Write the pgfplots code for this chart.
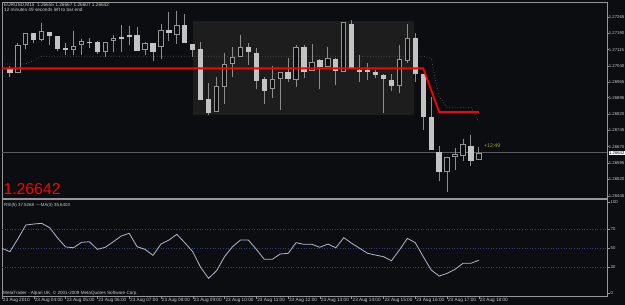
\documentclass[border=0pt]{standalone}
\usepackage{fontspec}
\setmainfont{Liberation Sans}
\usepackage{pgfplots}
\usepackage{pgfplotstable}
\pgfplotsset{compat=1.18}

\definecolor{bg}{RGB}{12,13,16}
\definecolor{boxc}{RGB}{29,29,30}
\definecolor{framec}{RGB}{150,150,150}
\definecolor{wick}{RGB}{140,140,140}
\definecolor{bodyf}{RGB}{195,195,195}
\definecolor{bodyo}{RGB}{150,150,150}
\definecolor{rsil}{RGB}{175,185,205}
\definecolor{lvl}{RGB}{45,65,120}
\definecolor{lbl}{RGB}{205,205,205}
\definecolor{cpline}{RGB}{90,92,95}
\definecolor{dotc}{RGB}{90,90,90}
\definecolor{timer}{RGB}{170,170,40}

\newcommand\fs{\fontsize{4.7pt}{5.5pt}\selectfont}
\newcommand\fsy{\fontsize{4.25pt}{5pt}\selectfont}

% bearish (filled) candles: time(hours) open high low close
\pgfplotstableread{
t O H L C
3.25 1.27026 1.27041 1.26988 1.27006
4.0 1.27189 1.27189 1.27144 1.27159
4.5 1.27194 1.27197 1.27136 1.27178
4.75 1.27177 1.27177 1.27108 1.27118
5.0 1.27124 1.27146 1.27090 1.27113
5.75 1.27149 1.27167 1.27121 1.27143
6.0 1.27151 1.27156 1.27095 1.27102
6.75 1.27174 1.27227 1.27104 1.27163
7.0 1.27183 1.27223 1.27136 1.27171
7.25 1.27183 1.27220 1.27110 1.27110
7.75 1.27144 1.27146 1.27064 1.27105
8.25 1.27205 1.27288 1.27156 1.27189
8.75 1.27227 1.27278 1.27144 1.27144
9.0 1.27139 1.27139 1.27080 1.27113
9.25 1.27118 1.27148 1.26884 1.26884
9.5 1.26889 1.26961 1.26815 1.26823
10.75 1.27128 1.27144 1.27044 1.27105
11.0 1.27101 1.27124 1.26933 1.26972
11.25 1.26980 1.26988 1.26866 1.26925
12.0 1.27014 1.27075 1.26965 1.26980
12.5 1.27128 1.27136 1.26983 1.27014
13.0 1.27067 1.27070 1.26934 1.27036
13.5 1.27072 1.27075 1.26953 1.27018
14.0 1.27232 1.27250 1.27029 1.27029
14.25 1.27021 1.27090 1.26965 1.27014
14.5 1.27020 1.27052 1.26976 1.27013
14.75 1.27014 1.27021 1.26983 1.26998
15.0 1.26998 1.27003 1.26823 1.26979
15.25 1.26976 1.27003 1.26927 1.26948
16.0 1.27169 1.27189 1.26968 1.27002
16.25 1.27003 1.27003 1.26747 1.26805
16.5 1.26807 1.26899 1.26655 1.26655
16.75 1.26644 1.26675 1.26514 1.26553
17.75 1.26675 1.26724 1.26583 1.26606
}\bear

% bullish (hollow) candles
\pgfplotstableread{
t O H L C
3.5 1.27006 1.27146 1.27006 1.27136
3.75 1.27136 1.27189 1.27116 1.27189
4.25 1.27159 1.27235 1.27156 1.27199
5.25 1.27113 1.27201 1.27090 1.27131
5.5 1.27136 1.27162 1.27090 1.27154
6.25 1.27102 1.27148 1.27080 1.27148
6.5 1.27154 1.27182 1.27102 1.27167
7.5 1.27113 1.27151 1.27090 1.27144
8.0 1.27128 1.27232 1.27070 1.27205
8.5 1.27182 1.27292 1.27140 1.27227
9.75 1.26828 1.26988 1.26828 1.26948
10.0 1.26942 1.27101 1.26866 1.27048
10.25 1.27048 1.27128 1.26988 1.27080
10.5 1.27082 1.27182 1.27082 1.27128
11.5 1.26934 1.27040 1.26894 1.26980
11.75 1.26980 1.27011 1.26838 1.27011
12.25 1.26976 1.27136 1.26945 1.27128
12.75 1.27018 1.27140 1.27018 1.27057
13.25 1.27036 1.27128 1.27036 1.27075
13.75 1.27014 1.27243 1.27014 1.27240
15.5 1.26948 1.27136 1.26917 1.27070
15.75 1.27064 1.27232 1.27055 1.27167
17.0 1.26553 1.26622 1.26461 1.26622
17.25 1.26622 1.26663 1.26563 1.26637
17.5 1.26629 1.26704 1.26605 1.26681
18.0 1.26607 1.26667 1.26607 1.26642
}\bull

% RSI(5)
\pgfplotstableread{
t r
3.0 50.0
3.25 46.4
3.5 60.0
3.75 74.5
4.0 75.6
4.25 76.3
4.5 71.7
4.75 60.8
5.0 51.4
5.25 50.6
5.5 56.3
5.75 56.9
6.0 48.9
6.25 51.1
6.5 56.9
6.75 62.9
7.0 65.8
7.25 51.7
7.5 48.9
7.75 42.6
8.0 54.5
8.25 58.7
8.5 64.7
8.75 55.9
9.0 46.4
9.25 29.8
9.5 18.4
9.75 26.4
10.0 41.2
10.25 51.7
10.5 58.7
10.75 58.7
11.0 48.9
11.25 38.4
11.5 38.4
11.75 44.0
12.0 44.7
12.25 55.9
12.5 54.2
12.75 54.2
13.0 51.1
13.25 54.5
13.5 50.6
13.75 61.2
14.0 55.3
14.25 50.0
14.5 44.7
14.75 42.9
15.0 41.2
15.25 36.9
15.5 48.2
15.75 60.5
16.0 55.9
16.25 41.2
16.5 27.2
16.75 20.8
17.0 23.7
17.25 27.9
17.5 34.2
17.75 34.2
18.0 37.5
}\rsi

\begin{document}
\begin{tikzpicture}
\useasboundingbox (0pt,-305pt) rectangle (625pt,0pt);
\fill[bg] (0pt,-305pt) rectangle (625pt,0pt);

\begin{axis}[
  at={(2pt,-198pt)}, anchor=south west,
  scale only axis, width=605pt, height=196pt,
  xmin=3.0, xmax=22.03, ymin=1.26435, ymax=1.27333,
  axis line style={framec, line width=0.8pt},
  xtick=\empty,
  ytick={1.26445,1.26520,1.26595,1.26670,1.26745,1.26820,1.26895,1.26965,1.27040,1.27115,1.27190,1.27265},
  yticklabels={1.26445,1.26520,1.26595,1.26670,1.26745,1.26820,1.26895,1.26965,1.27040,1.27115,1.27190,1.27265},
  ytick pos=right, yticklabel pos=right,
  tick align=outside, major tick length=1.5pt,
  tick style={framec, line width=0.5pt},
  yticklabel style={font=\fsy, text=lbl, anchor=west, inner sep=0.2pt},
  axis background/.style={fill=bg},
]
\addplot[fill=boxc, draw=none] coordinates {(9.0,1.26815) (9.0,1.27247) (15.97,1.27247) (15.97,1.26815)} -- cycle;
\addplot[cpline, line width=0.8pt] coordinates {(3.0,1.26642) (22.03,1.26642)};
\addplot[dotc, dotted, line width=0.7pt] coordinates {(3.0,1.27049) (3.75,1.27049) (4.0,1.27066) (4.25,1.27084) (16.25,1.27084) (16.5,1.27076) (16.6,1.27000) (16.75,1.26898) (17.0,1.26851) (17.75,1.26851) (18.0,1.26785)};
% wicks
\addplot[wick, line width=0.9pt, quiver={u=0, v=\thisrow{H}-\thisrow{L}}] table[x=t, y=L] {\bear};
\addplot[wick, line width=0.9pt, quiver={u=0, v=\thisrow{H}-\thisrow{L}}] table[x=t, y=L] {\bull};
% bodies
\addplot[bodyf, line width=5.3pt, quiver={u=0, v=\thisrow{C}-\thisrow{O}}] table[x=t, y=O] {\bear};
\addplot[bodyo, line width=5.3pt, quiver={u=0, v=\thisrow{C}-\thisrow{O}}] table[x=t, y=O] {\bull};
\addplot[bg, line width=3.3pt, shorten >=1pt, shorten <=1pt, quiver={u=0, v=\thisrow{C}-\thisrow{O}}] table[x=t, y=O] {\bull};
% red level line
\addplot[red, line width=1.8pt] coordinates {(3.0,1.27029) (16.25,1.27029) (16.75,1.26829) (18.0,1.26829)};
\end{axis}

\begin{axis}[
  at={(2pt,-296pt)}, anchor=south west,
  scale only axis, width=605pt, height=96.7pt,
  xmin=3.0, xmax=22.03, ymin=-0.2, ymax=101.6,
  axis line style={framec, line width=0.8pt},
  xtick={3,4,...,18},
  xticklabels={23 Aug 2010,23 Aug 04:00,23 Aug 05:00,23 Aug 06:00,23 Aug 07:00,23 Aug 08:00,23 Aug 09:00,23 Aug 10:00,23 Aug 11:00,23 Aug 12:00,23 Aug 13:00,23 Aug 14:00,23 Aug 15:00,23 Aug 16:00,23 Aug 17:00,23 Aug 18:00},
  ytick={2.9,30,50,70,98.4},
  yticklabels={0,30,50,70,100},
  xtick pos=left, ytick pos=right, yticklabel pos=right,
  tick align=outside, major tick length=3pt,
  tick style={framec, line width=0.5pt},
  yticklabel style={font=\fsy, text=lbl, anchor=west, inner sep=0.5pt},
  xticklabel style={font=\fs, text=lbl, anchor=west, inner sep=0pt, xshift=0.8pt, yshift=-1.5pt},
  axis background/.style={fill=bg},
]
\addplot[lvl, dotted, line width=0.6pt] coordinates {(3.0,30) (22.03,30)};
\addplot[lvl, dotted, line width=0.6pt] coordinates {(3.0,50) (22.03,50)};
\addplot[lvl, dotted, line width=0.6pt] coordinates {(3.0,70) (22.03,70)};
\addplot[rsil, line width=0.8pt] table[x=t, y=r] {\rsi};
\end{axis}

% texts
\node[anchor=base west, inner sep=0pt, text=lbl, font=\fs] at (4pt,-6.8pt) {EURUSD,M15\ \ 1.26655 1.26667 1.26607 1.26642};
\node[anchor=base west, inner sep=0pt, text=lbl, font=\fs] at (4pt,-11.3pt) {12 minutes 49 seconds left to bar end};
\node[anchor=base west, inner sep=0pt, text=red, font=\fontsize{15.8pt}{17pt}\selectfont] at (3.3pt,-194pt) {1.26642};
\node[anchor=base west, inner sep=0pt, text=timer, font=\fontsize{5.2pt}{6pt}\selectfont] at (484pt,-147.7pt) {+12:49};
\node[anchor=west, fill=white, text=black, inner sep=0.4pt, font=\fsy] at (608.5pt,-153pt) {1.26642};
\node[anchor=base west, inner sep=0pt, text=lbl, font=\fontsize{4.4pt}{5pt}\selectfont] at (4pt,-206.5pt) {RSI(5) 37.5268\ \ ---MA(3) 35.6403};
\node[anchor=base west, inner sep=0pt, text=lbl, font=\fontsize{4.6pt}{5pt}\selectfont] at (3pt,-294pt) {MetaTrader - Alpari UK, © 2001-2009 MetaQuotes Software Corp.};
\end{tikzpicture}
\end{document}
